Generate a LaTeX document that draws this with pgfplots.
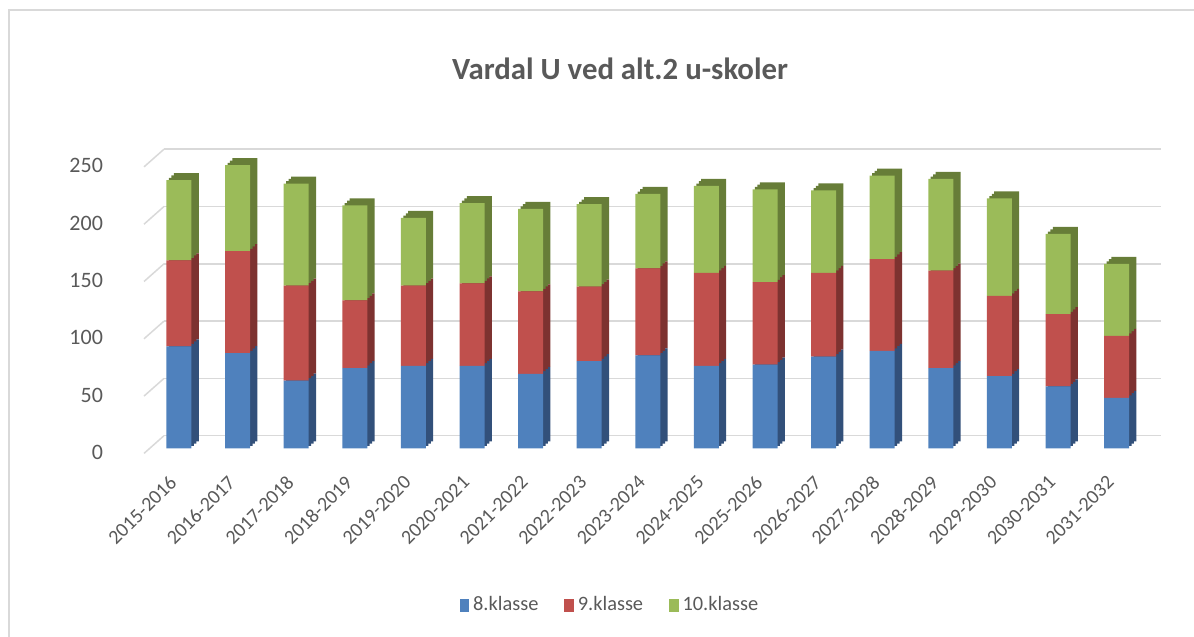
\documentclass[border=0pt]{standalone}
\usepackage{pgfplots}
\pgfplotsset{compat=1.18}
\usepackage{pgfplotstable}
\usepackage{fontspec}
\setmainfont{Carlito}
\definecolor{cb}{RGB}{79,129,189}
\definecolor{cr}{RGB}{192,80,77}
\definecolor{cg}{RGB}{155,187,89}
\definecolor{sb}{RGB}{50,80,122}
\definecolor{sr}{RGB}{125,50,48}
\definecolor{sg}{RGB}{103,125,56}
\definecolor{txt}{RGB}{89,89,89}
\definecolor{grd}{RGB}{217,217,217}

\pgfplotstableread{
x a b c
0 89 75 70
1 83 89 75
2 59 83 89
3 70 59 83
4 72 70 59
5 72 72 70
6 65 72 72
7 76 65 72
8 81 76 65
9 72 81 76
10 73 72 81
11 80 73 72
12 85 80 73
13 70 85 80
14 63 70 85
15 54 63 70
16 44 54 63
}\data

\pgfplotsset{
  barax/.style={scale only axis, width=505pt, height=143.25pt,
    xmin=-0.6655, xmax=16.57, ymin=0, ymax=250,
    ybar stacked, bar width=12.5pt},
  shadowax/.style={barax, axis line style={draw=none}, tick style={draw=none},
    xtick=\empty, ytick=\empty},
}

\begin{document}
\begin{tikzpicture}
\path[use as bounding box] (0,0) rectangle (597pt,318.5pt);
\draw[grd, line width=0.75pt] (4.5pt,0) -- (4.5pt,313.5pt) -- (597pt,313.5pt);
\node[font=\bfseries\fontsize{15.4}{18}\selectfont, text=txt, anchor=base] at (310pt,278.5pt) {Vardal U ved alt.2 u-skoler};

% back wall grid
\begin{axis}[at={(82pt,100.65pt)}, anchor=south west, scale only axis,
  width=498.5pt, height=143.25pt, xmin=0, xmax=1, ymin=0, ymax=250,
  ytick={0,50,...,250}, yticklabels={}, xtick=\empty,
  axis line style={draw=none}, tick style={draw=none},
  ymajorgrids, grid style={grd, line width=0.75pt}, clip=false]
\addplot[draw=none] coordinates {(0,0) (1,0)};
\draw[grd, line width=0.75pt] (rel axis cs:0,0) -- ++(-10pt,-8.85pt);
\draw[grd, line width=0.75pt] (rel axis cs:0,0.2) -- ++(-10pt,-8.85pt);
\draw[grd, line width=0.75pt] (rel axis cs:0,0.4) -- ++(-10pt,-8.85pt);
\draw[grd, line width=0.75pt] (rel axis cs:0,0.6) -- ++(-10pt,-8.85pt);
\draw[grd, line width=0.75pt] (rel axis cs:0,0.8) -- ++(-10pt,-8.85pt);
\draw[grd, line width=0.75pt] (rel axis cs:0,1) -- ++(-10pt,-8.85pt);
\end{axis}

% side/top faces (stepped shadows)
\begin{axis}[shadowax, at={(73.65pt,97.85pt)}, anchor=south west]
\addplot[fill=sb, draw=none] table[x=x,y=a] {\data};
\addplot[fill=sr, draw=none] table[x=x,y=b] {\data};
\addplot[fill=sg, draw=none] table[x=x,y=c] {\data};
\end{axis}
\begin{axis}[shadowax, at={(72.43pt,96.68pt)}, anchor=south west]
\addplot[fill=sb, draw=none] table[x=x,y=a] {\data};
\addplot[fill=sr, draw=none] table[x=x,y=b] {\data};
\addplot[fill=sg, draw=none] table[x=x,y=c] {\data};
\end{axis}
\begin{axis}[shadowax, at={(71.22pt,95.52pt)}, anchor=south west]
\addplot[fill=sb, draw=none] table[x=x,y=a] {\data};
\addplot[fill=sr, draw=none] table[x=x,y=b] {\data};
\addplot[fill=sg, draw=none] table[x=x,y=c] {\data};
\end{axis}

% front faces
\begin{axis}[barax, at={(70pt,94.35pt)}, anchor=south west,
  axis line style={draw=none}, tick style={draw=none},
  ytick={0,50,...,250},
  /pgf/number format/assume math mode=true,
  yticklabel style={font=\fontsize{11}{13}\selectfont, text=txt, xshift=-15pt, yshift=-2pt},
  xtick={0,...,16},
  xticklabels={2015-2016,2016-2017,2017-2018,2018-2019,2019-2020,2020-2021,2021-2022,2022-2023,2023-2024,2024-2025,2025-2026,2026-2027,2027-2028,2028-2029,2029-2030,2030-2031,2031-2032},
  xticklabel style={font=\fontsize{10}{12}\selectfont, text=txt, xshift=-0.5pt, yshift=-13pt, rotate=45, anchor=east},
  legend style={at={(axis description cs:0.4663,-0.547)}, anchor=center, draw=none, fill=none,
    font=\fontsize{10.2}{12}\selectfont, text=txt, legend columns=3,
    /tikz/every even column/.append style={column sep=11pt}},
  legend image code/.code={\fill[#1] (0pt,-3.25pt) rectangle (4.7pt,3.25pt);},
]
\addplot[fill=cb, draw=none] table[x=x,y=a] {\data};
\addlegendentry{8.klasse}
\addplot[fill=cr, draw=none] table[x=x,y=b] {\data};
\addlegendentry{9.klasse}
\addplot[fill=cg, draw=none] table[x=x,y=c] {\data};
\addlegendentry{10.klasse}
\end{axis}
\end{tikzpicture}
\end{document}
